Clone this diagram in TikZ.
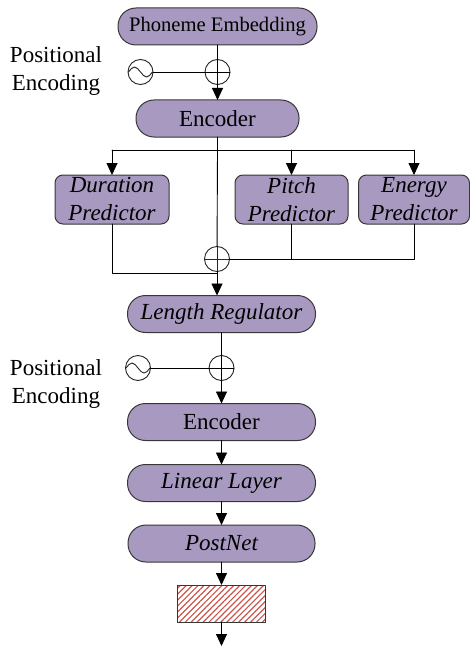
\documentclass[tikz,border=0pt]{standalone}
\usepackage{fontspec}
\setmainfont{LiberationSerif}[Extension=.ttf,UprightFont=*-Regular,ItalicFont=*-Italic,BoldFont=*-Bold,BoldItalicFont=*-BoldItalic]
\usetikzlibrary{arrows.meta,patterns.meta}
\definecolor{blockfill}{RGB}{168,153,192}
\definecolor{blockline}{RGB}{55,55,55}
\definecolor{hatchred}{RGB}{200,88,78}

\begin{document}
\begin{tikzpicture}[x=0.5pt,y=-0.5pt,line cap=round,line join=round,
  >={Triangle[length=6pt,width=5.5pt]},
  every node/.style={inner sep=0pt,outer sep=0pt},
  block/.style={draw=blockline,fill=blockfill,line width=0.5pt,rounded corners=9pt,
    minimum height=18.5pt,font=\fontsize{11.5}{14}\selectfont},
  predbox/.style={draw=blockline,fill=blockfill,line width=0.5pt,rounded corners=4pt,
    minimum height=24.5pt,align=center,font=\fontsize{11.5}{14}\selectfont\itshape},
  addop/.style={circle,draw=black!85,line width=0.45pt,minimum size=12.5pt,
    path picture={\draw[line width=0.45pt] (path picture bounding box.north) -- (path picture bounding box.south)
      (path picture bounding box.west) -- (path picture bounding box.east);}},
  wave/.style={circle,draw=black!85,line width=0.45pt,minimum size=12.5pt,
    path picture={\draw[line width=0.45pt] ([xshift=-6pt]path picture bounding box.center)
      sin ([xshift=-3pt,yshift=2.5pt]path picture bounding box.center)
      cos (path picture bounding box.center)
      sin ([xshift=3pt,yshift=-2.5pt]path picture bounding box.center)
      cos ([xshift=6pt]path picture bounding box.center);}},
  label/.style={align=center,font=\fontsize{11.5}{14}\selectfont},
  link/.style={line width=0.45pt}]
  \useasboundingbox (0,0) rectangle (470,647);
  \def\xa{217.5}
  \def\xb{221.5}

  % variance adaptor side
  \node[block,minimum width=99.5pt,font=\fontsize{10.3}{12}\selectfont] (emb) at (\xa,26.5) {Phoneme Embedding};
  \node[label] (pe1) at (56,71) {Positional\\Encoding};
  \node[wave] (sin1) at (140.5,72) {};
  \node[addop] (add1) at (\xa,72) {};
  \node[block,minimum width=81.5pt] (enc1) at (\xa,118.5) {Encoder};
  \node[predbox,minimum width=57pt] (dur) at (112,199.5) {Duration\\Predictor};
  \node[predbox,minimum width=56.5pt] (pit) at (291.5,199.5) {Pitch\\Predictor};
  \node[predbox,minimum width=55.5pt] (ene) at (414,199.5) {Energy\\Predictor};
  \node[addop] (add2) at (217,259) {};
  \coordinate (split) at (\xa,150);
  \coordinate (durjoin) at (217,273);

  \draw[link] (sin1.east) -- (add1.east);
  \draw[link,->] (emb) -- (enc1);
  \draw[link] (enc1.south) -- (split);
  \draw[link] (dur.north |- split) -- (ene.north |- split);
  \draw[link,->] (dur.north |- split) -- (dur);
  \draw[link,->] (pit.north |- split) -- (pit);
  \draw[link,->] (ene.north |- split) -- (ene);
  \draw[link] (split) -- (add2);
  \draw[link] (dur.south) |- (durjoin);
  \draw[link] (pit.south) -- (pit.south |- add2);
  \draw[link] (ene.south) |- (add2.east);

  % decoder side
  \node[block,minimum width=94pt,font=\fontsize{11.5}{14}\selectfont\itshape] (lenreg) at (\xb,314) {Length Regulator};
  \node[label] (pe2) at (56,384) {Positional\\Encoding};
  \node[wave] (sin2) at (138,368) {};
  \node[addop] (add3) at (\xb,368) {};
  \node[block,minimum width=94pt] (enc2) at (\xb,422) {Encoder};
  \node[block,minimum width=94pt,font=\fontsize{11.5}{14}\selectfont\itshape] (lin) at (\xb,483) {Linear Layer};
  \node[block,minimum width=93.5pt,font=\fontsize{11.5}{14}\selectfont\itshape] (post) at (\xb,543.5) {PostNet};
  \node[draw=blockline,line width=0.5pt,minimum width=44pt,minimum height=18.5pt,
    pattern={Lines[angle=45,distance=2.1pt,line width=0.6pt]},pattern color=hatchred] (out) at (\xb,603.5) {};
  \coordinate (end) at (\xb,646);

  \draw[link,->] (add2) -- (add2 |- lenreg.north);
  \draw[link] (sin2.east) -- (add3.east);
  \draw[link,->] (lenreg) -- (enc2);
  \draw[link,->] (enc2) -- (lin);
  \draw[link,->] (lin) -- (post);
  \draw[link,->] (post) -- (out);
  \draw[link,->] (out) -- (end);
\end{tikzpicture}
\end{document}
